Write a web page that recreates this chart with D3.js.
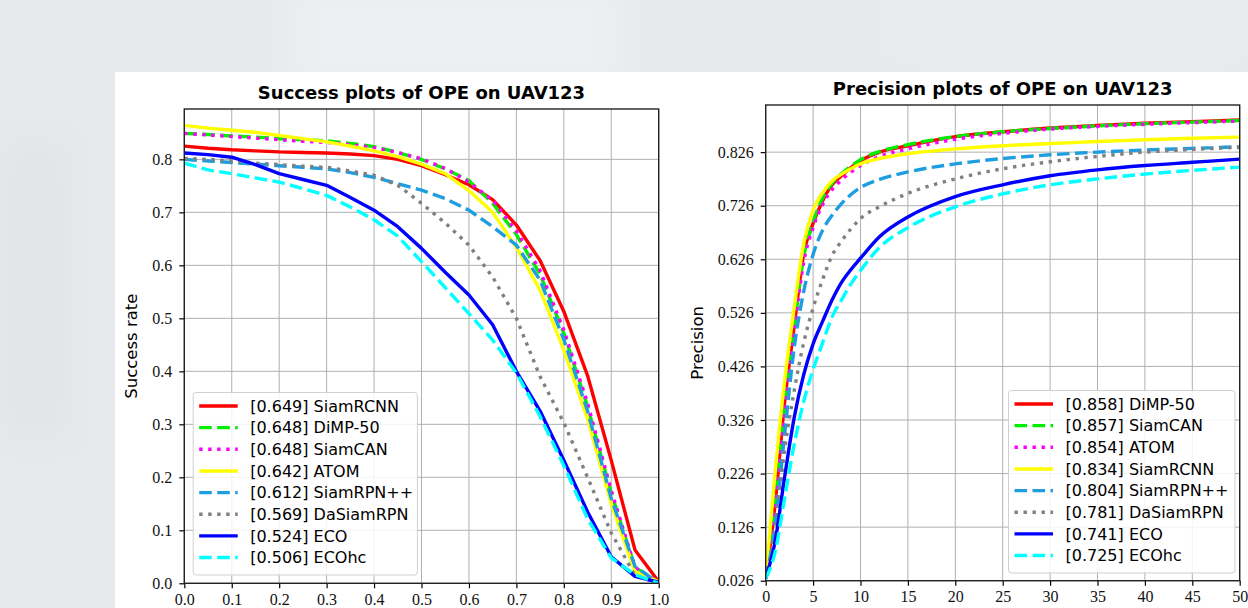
<!DOCTYPE html>
<html>
<head>
<meta charset="utf-8">
<script src="https://cdn.jsdelivr.net/npm/d3@7/dist/d3.min.js"></script>
<style>
  body { margin: 0; background: #e8eaed; overflow: hidden; }
  svg { display: block; }
</style>
</head>
<body>
<div id="chart"></div>
<script>
// ---- success plot (overlap threshold) ----
const overlapThr = [0, 0.05, 0.1, 0.15, 0.2, 0.25, 0.3, 0.35, 0.4, 0.45, 0.5,
                    0.55, 0.6, 0.65, 0.7, 0.75, 0.8, 0.85, 0.9, 0.95, 1.0];
const successNames = ["SiamRCNN", "DiMP-50", "SiamCAN", "ATOM", "SiamRPN++", "DaSiamRPN", "ECO", "ECOhc"];
const successAUC = ["0.649", "0.648", "0.648", "0.642", "0.612", "0.569", "0.524", "0.506"];
const succSiamRCNN = [0.825, 0.821, 0.818, 0.816, 0.814, 0.813, 0.812, 0.810, 0.807, 0.800, 0.788,
                      0.771, 0.752, 0.724, 0.676, 0.609, 0.513, 0.392, 0.232, 0.063, 0.003];
const succDiMP50 = [0.849, 0.847, 0.844, 0.842, 0.839, 0.837, 0.835, 0.830, 0.824, 0.813, 0.800,
                    0.782, 0.760, 0.717, 0.658, 0.583, 0.472, 0.334, 0.170, 0.030, 0.002];
const succSiamCAN = [0.849, 0.846, 0.843, 0.840, 0.837, 0.834, 0.832, 0.828, 0.822, 0.813, 0.801,
                     0.783, 0.757, 0.723, 0.665, 0.590, 0.478, 0.340, 0.175, 0.030, 0.002];
const succATOM = [0.864, 0.859, 0.855, 0.851, 0.845, 0.839, 0.833, 0.825, 0.816, 0.805, 0.791,
                  0.773, 0.741, 0.700, 0.634, 0.553, 0.440, 0.310, 0.150, 0.022, 0.003];
const succSiamRPNpp = [0.800, 0.797, 0.794, 0.791, 0.788, 0.785, 0.782, 0.775, 0.766, 0.754, 0.742,
                       0.726, 0.704, 0.673, 0.638, 0.572, 0.460, 0.325, 0.160, 0.032, 0.000];
const succDaSiamRPN = [0.802, 0.800, 0.797, 0.793, 0.790, 0.787, 0.785, 0.778, 0.770, 0.751, 0.717,
                       0.680, 0.638, 0.578, 0.500, 0.390, 0.303, 0.200, 0.095, 0.015, 0.000];
const succECO = [0.812, 0.809, 0.804, 0.790, 0.773, 0.762, 0.751, 0.728, 0.704, 0.673, 0.632,
                 0.587, 0.544, 0.488, 0.400, 0.325, 0.232, 0.135, 0.050, 0.013, 0.002];
const succECOhc = [0.793, 0.780, 0.773, 0.765, 0.757, 0.745, 0.732, 0.710, 0.686, 0.655, 0.607,
                   0.558, 0.509, 0.459, 0.397, 0.315, 0.222, 0.122, 0.048, 0.016, 0.000];
const successTicksX = [0, 0.1, 0.2, 0.3, 0.4, 0.5, 0.6, 0.7, 0.8, 0.9, 1.0];
const successTicksY = [0, 0.1, 0.2, 0.3, 0.4, 0.5, 0.6, 0.7, 0.8];

// ---- precision plot (location error threshold) ----
const errorThr = [0, 1, 2, 3, 4, 5, 6, 7, 8, 9, 10, 12, 15, 20, 25, 30, 35, 40, 45, 50];
const precisionNames = ["DiMP-50", "SiamCAN", "ATOM", "SiamRCNN", "SiamRPN++", "DaSiamRPN", "ECO", "ECOhc"];
const precisionScore = ["0.858", "0.857", "0.854", "0.834", "0.804", "0.781", "0.741", "0.725"];
const precDiMP50 = [0.030, 0.170, 0.360, 0.500, 0.635, 0.693, 0.735, 0.765, 0.782, 0.797, 0.810,
                    0.826, 0.838, 0.855, 0.864, 0.871, 0.876, 0.880, 0.883, 0.886];
const precSiamCAN = [0.030, 0.165, 0.355, 0.500, 0.630, 0.695, 0.740, 0.768, 0.786, 0.800, 0.812,
                     0.827, 0.840, 0.855, 0.864, 0.870, 0.875, 0.879, 0.882, 0.885];
const precATOM = [0.030, 0.160, 0.345, 0.490, 0.620, 0.685, 0.728, 0.756, 0.774, 0.789, 0.801,
                  0.818, 0.832, 0.850, 0.861, 0.869, 0.874, 0.878, 0.881, 0.884];
const precSiamRCNN = [0.030, 0.230, 0.400, 0.535, 0.655, 0.718, 0.750, 0.772, 0.785, 0.795, 0.804,
                      0.814, 0.823, 0.832, 0.838, 0.842, 0.846, 0.849, 0.852, 0.854];
const precSiamRPNpp = [0.030, 0.130, 0.300, 0.460, 0.565, 0.635, 0.680, 0.708, 0.730, 0.747, 0.760,
                       0.775, 0.789, 0.804, 0.814, 0.821, 0.826, 0.830, 0.833, 0.836];
const precDaSiamRPN = [0.030, 0.120, 0.270, 0.380, 0.470, 0.535, 0.588, 0.633, 0.660, 0.683, 0.702,
                       0.724, 0.749, 0.776, 0.795, 0.808, 0.818, 0.826, 0.831, 0.835];
const precECO = [0.030, 0.100, 0.220, 0.330, 0.410, 0.468, 0.510, 0.550, 0.583, 0.607, 0.628,
                 0.668, 0.705, 0.743, 0.765, 0.782, 0.793, 0.801, 0.807, 0.813];
const precECOhc = [0.030, 0.080, 0.180, 0.280, 0.360, 0.420, 0.470, 0.518, 0.550, 0.580, 0.605,
                   0.648, 0.685, 0.724, 0.748, 0.765, 0.776, 0.785, 0.792, 0.798];
const precisionTicksX = [0, 5, 10, 15, 20, 25, 30, 35, 40, 45, 50];
const precisionTicksY = [0.026, 0.126, 0.226, 0.326, 0.426, 0.526, 0.626, 0.726, 0.826];

// line styles by rank (same for both plots)
const rankColors = ["#ff0000", "#00ee00", "#ff00ff", "#ffff00", "#1e9ee0", "#808080", "#0000ff", "#00ffff"];
const rankDashes = [null, "12.6,5.4", "3.4,5.6", null, "12.6,5.4", "3.4,5.6", null, "12.6,5.4"];

const W = 1248, H = 608;
const svg = d3.select("#chart").append("svg")
  .attr("width", W)
  .attr("height", H);

// blurred grey backdrop behind the white figure
const defs = svg.append("defs");
defs.append("filter").attr("id", "blur")
  .append("feGaussianBlur").attr("stdDeviation", 18);
svg.append("rect").attr("width", W).attr("height", H).attr("fill", "#e7e9ec");
const bg = svg.append("g").attr("filter", "url(#blur)");
bg.append("rect").attr("x", 290).attr("y", -20).attr("width", 330).attr("height", 110).attr("fill", "#edeff1");
bg.append("rect").attr("x", 0).attr("y", 140).attr("width", 70).attr("height", 300).attr("fill", "#e2e4e8");
bg.append("rect").attr("x", 880).attr("y", -20).attr("width", 380).attr("height", 80).attr("fill", "#e9ebee");

svg.append("rect")
  .attr("x", 115).attr("y", 72)
  .attr("width", W - 115).attr("height", H - 72)
  .attr("fill", "#ffffff");

function drawPanel(cfg) {
  const g = svg.append("g");
  const x = d3.scaleLinear().domain(cfg.xDomain).range(cfg.xRange);
  const y = d3.scaleLinear().domain(cfg.yDomain).range(cfg.yRange);

  // grid
  g.selectAll("line.vgrid").data(cfg.ticksX).enter().append("line")
    .attr("x1", d => x(d)).attr("x2", d => x(d))
    .attr("y1", y.range()[0]).attr("y2", y.range()[1])
    .style("stroke", "#b0b0b0").style("stroke-width", 1);
  g.selectAll("line.hgrid").data(cfg.ticksY).enter().append("line")
    .attr("y1", d => y(d)).attr("y2", d => y(d))
    .attr("x1", x.range()[0]).attr("x2", x.range()[1])
    .style("stroke", "#b0b0b0").style("stroke-width", 1);

  // curves
  const clipId = "clip" + cfg.id;
  defs.append("clipPath").attr("id", clipId).append("rect")
    .attr("x", x.range()[0]).attr("y", y.range()[1])
    .attr("width", x.range()[1] - x.range()[0])
    .attr("height", y.range()[0] - y.range()[1]);
  const line = d3.line()
    .x((d, i) => x(cfg.thr[i]))
    .y(d => y(d))
    .curve(cfg.curve);
  const lines = g.append("g").attr("clip-path", "url(#" + clipId + ")");
  cfg.series.forEach((s, i) => {
    lines.append("path")
      .attr("d", line(s))
      .attr("fill", "none")
      .attr("stroke", rankColors[i])
      .attr("stroke-width", 3.4)
      .attr("stroke-dasharray", rankDashes[i])
      .attr("stroke-linejoin", "round");
  });

  // axes
  const yAxis = d3.axisLeft(y).tickValues(cfg.ticksY).tickFormat(d3.format(cfg.yFmt))
    .tickSize(5).tickPadding(7);
  const xAxis = d3.axisBottom(x).tickValues(cfg.ticksX).tickFormat(d3.format(cfg.xFmt))
    .tickSize(5).tickPadding(5);
  g.append("g").attr("transform", "translate(" + x.range()[0] + ",0)").call(yAxis);
  g.append("g").attr("transform", "translate(0," + y.range()[0] + ")").call(xAxis);
  g.selectAll(".domain").remove();
  g.selectAll(".tick line").style("stroke", "#000").style("stroke-width", 1.2);
  g.selectAll(".tick text")
    .style("font-family", "'Liberation Serif', serif")
    .style("font-size", "16px")
    .style("fill", "#111");

  // frame
  g.append("rect")
    .attr("x", x.range()[0]).attr("y", y.range()[1])
    .attr("width", x.range()[1] - x.range()[0])
    .attr("height", y.range()[0] - y.range()[1])
    .attr("fill", "none").attr("stroke", "#222").attr("stroke-width", 1.4);

  // title and y label
  g.append("text")
    .attr("x", (x.range()[0] + x.range()[1]) / 2)
    .attr("y", y.range()[1] - 10.5)
    .attr("text-anchor", "middle")
    .style("font-family", "'DejaVu Sans', sans-serif")
    .style("font-weight", "bold")
    .style("font-size", "18px")
    .text(cfg.title);
  g.append("text")
    .attr("transform", "translate(" + cfg.yLabelX + "," + (y.range()[0] + y.range()[1]) / 2 + ") rotate(-90)")
    .attr("text-anchor", "middle")
    .style("font-family", "'DejaVu Sans', sans-serif")
    .style("font-size", "16.5px")
    .text(cfg.yLabel);

  // legend
  const lg = g.append("g").attr("transform", "translate(" + cfg.legend[0] + "," + cfg.legend[1] + ")");
  lg.append("rect")
    .attr("width", cfg.legend[2]).attr("height", 182.5)
    .attr("rx", 3)
    .attr("fill", "#fff").attr("fill-opacity", 0.85)
    .attr("stroke", "#d0d0d0").attr("stroke-width", 1);
  cfg.names.forEach((n, i) => {
    const yy = 13.5 + i * 21.65;
    lg.append("line")
      .attr("x1", 6).attr("x2", 44.5).attr("y1", yy).attr("y2", yy)
      .attr("stroke", rankColors[i]).attr("stroke-width", 3.4)
      .attr("stroke-dasharray", rankDashes[i]);
    lg.append("text")
      .attr("x", 57).attr("y", yy).attr("dy", "0.36em")
      .style("font-family", "'DejaVu Sans', sans-serif")
      .style("font-size", "16px")
      .text("[" + cfg.scores[i] + "] " + n);
  });
}

drawPanel({
  id: "s",
  title: "Success plots of OPE on UAV123",
  yLabel: "Success rate",
  yLabelX: 137,
  xDomain: [0, 1], xRange: [184.3, 658.7],
  yDomain: [0, 0.895], yRange: [583.3, 109],
  ticksX: successTicksX, ticksY: successTicksY,
  xFmt: ".1f", yFmt: ".1f",
  thr: overlapThr,
  curve: d3.curveLinear,
  series: [succSiamRCNN, succDiMP50, succSiamCAN, succATOM, succSiamRPNpp, succDaSiamRPN, succECO, succECOhc],
  names: successNames, scores: successAUC,
  legend: [193.2, 392.5, 224.2]
});

drawPanel({
  id: "p",
  title: "Precision plots of OPE on UAV123",
  yLabel: "Precision",
  yLabelX: 703,
  xDomain: [0, 50], xRange: [765.7, 1239.7],
  yDomain: [0.026, 0.914], yRange: [580.7, 105],
  ticksX: precisionTicksX, ticksY: precisionTicksY,
  xFmt: "d", yFmt: ".3f",
  thr: errorThr,
  curve: d3.curveMonotoneX,
  series: [precDiMP50, precSiamCAN, precATOM, precSiamRCNN, precSiamRPNpp, precDaSiamRPN, precECO, precECOhc],
  names: precisionNames, scores: precisionScore,
  legend: [1008.5, 390.5, 226.5]
});
</script>
</body>
</html>
